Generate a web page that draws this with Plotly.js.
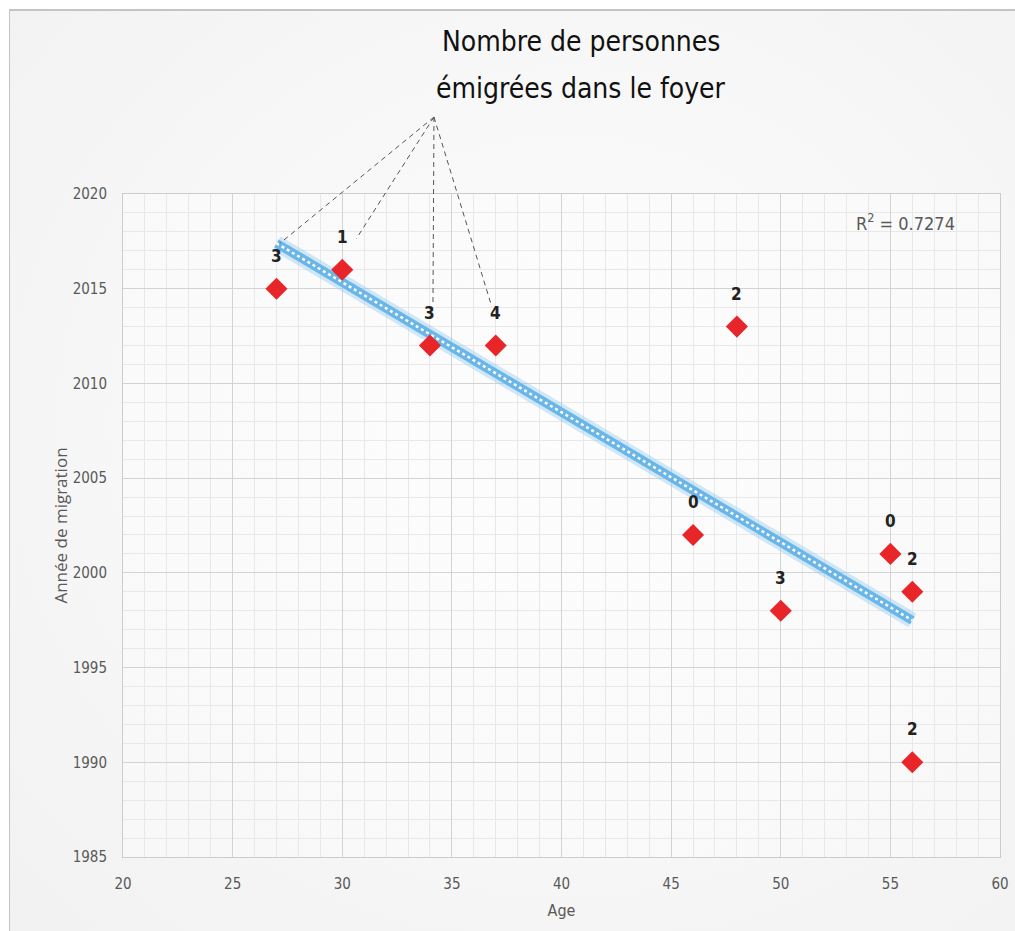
<!DOCTYPE html>
<html>
<head>
<meta charset="utf-8">
<script src="https://cdn.plot.ly/plotly-3.0.1.min.js"></script>
<style>
  html, body { margin: 0; padding: 0; background: #ffffff; }
  #frame {
    position: absolute; left: 9px; top: 9px; width: 1010px; height: 930px;
    border-left: 1px solid #c4c4c4; border-top: 2px solid #c4c4c4;
    background: radial-gradient(ellipse at 55% 45%, #fcfcfc 0%, #f7f7f7 55%, #f1f1f1 100%);
  }
  #chart { position: absolute; left: 0; top: 0; width: 1015px; height: 931px; }
</style>
</head>
<body>
<div id="frame"></div>
<div id="chart"></div>
<script>
// ---- data ----
const ages       = [27, 30, 34, 37, 48, 46, 50, 55, 56, 56];
const years      = [2015, 2016, 2012, 2012, 2013, 2002, 1998, 2001, 1999, 1990];
const emigrants  = [3, 1, 3, 4, 2, 0, 3, 0, 2, 2];
const xTickVals  = [20, 25, 30, 35, 40, 45, 50, 55, 60];
const yTickVals  = [1985, 1990, 1995, 2000, 2005, 2010, 2015, 2020];
const titleLines = ['Nombre de personnes', 'émigrées dans le foyer'];
const xTitle = 'Age';
const yTitle = 'Année de migration';

// ---- linear trend (least squares) ----
const n = ages.length;
const mx = ages.reduce((a, b) => a + b, 0) / n;
const my = years.reduce((a, b) => a + b, 0) / n;
let sxy = 0, sxx = 0, syy = 0;
for (let i = 0; i < n; i++) {
  sxy += (ages[i] - mx) * (years[i] - my);
  sxx += (ages[i] - mx) ** 2;
  syy += (years[i] - my) ** 2;
}
const slope = sxy / sxx;
const intercept = my - slope * mx;
const r2 = (sxy * sxy) / (sxx * syy);
const xMin = Math.min(...ages), xMax = Math.max(...ages);
const trendX = [xMin, xMax];
const trendY = trendX.map(x => intercept + slope * x);

const xRange = [20, 60], yRange = [1985, 2020];
const plotW = 877, plotH = 663;

const FONT = '"DejaVu Sans Condensed", Roboto, sans-serif';

const traces = [
  { x: trendX, y: trendY, mode: 'lines', hoverinfo: 'skip', showlegend: false,
    line: { color: 'rgba(140,200,240,0.40)', width: 16 } },
  { x: trendX, y: trendY, mode: 'lines', hoverinfo: 'skip', showlegend: false,
    line: { color: '#6ab6e8', width: 9 } },
  { x: trendX, y: trendY, mode: 'lines', hoverinfo: 'skip', showlegend: false,
    line: { color: '#ffffff', width: 2.5, dash: 'dot' } },
  { x: ages, y: years, mode: 'markers', showlegend: false,
    marker: { symbol: 'diamond', size: 17, color: '#e8262a' } }
];

const annotations = [];
for (let i = 0; i < n; i++) {
  annotations.push({
    x: ages[i], y: years[i], xref: 'x', yref: 'y', text: String(emigrants[i]),
    showarrow: false, yshift: 33, xanchor: 'center', yanchor: 'middle',
    font: { family: FONT, size: 17, color: '#222222', weight: 'bold' }
  });
}
// title (two lines)
const titleY = [1.2293, 1.1584];
titleLines.forEach((t, k) => {
  annotations.push({
    x: 0.5222, y: titleY[k], xref: 'paper', yref: 'paper', text: t, showarrow: false,
    xanchor: 'center', yanchor: 'middle',
    font: { family: FONT, size: 28, color: '#111111' }
  });
});
// R²
annotations.push({
  x: 0.951, y: 0.9578, xref: 'paper', yref: 'paper', showarrow: false,
  xanchor: 'right', yanchor: 'middle',
  text: 'R<sup>2</sup> = ' + r2.toFixed(4),
  font: { family: FONT, size: 18, color: '#595959' }
});

// leader lines from title to labels of the first four points
const apex = [0.3546, 1.1161];
const leaderIdx = [0, 1, 2, 3];
const leaderOff = [[3, 45], [14, 31], [3, 40], [-4, 39]];
const shapes = leaderIdx.map((idx, k) => ({
  type: 'line', xref: 'paper', yref: 'paper',
  x0: apex[0], y0: apex[1],
  x1: (ages[idx] - xRange[0]) / (xRange[1] - xRange[0]) + leaderOff[k][0] / plotW,
  y1: (years[idx] - yRange[0]) / (yRange[1] - yRange[0]) + leaderOff[k][1] / plotH,
  line: { color: '#555555', width: 1, dash: '5px,4px' }
}));

const tickFont = { family: FONT, size: 15, color: '#595959' };

const layout = {
  width: 1015, height: 931,
  margin: { l: 123, r: 15, t: 194, b: 74 },
  paper_bgcolor: 'rgba(0,0,0,0)',
  plot_bgcolor: 'rgba(255,255,255,0.35)',
  showlegend: false,
  xaxis: {
    range: xRange, tickvals: xTickVals, ticktext: xTickVals.map(String),
    showgrid: true, gridcolor: '#d3d3d3', gridwidth: 1,
    minor: { dtick: 1, showgrid: true, gridcolor: '#e8e8e8', gridwidth: 1 },
    showline: true, mirror: true, linecolor: '#cccccc', linewidth: 1,
    zeroline: false, ticks: '', tickfont: tickFont, ticklabelstandoff: 13,
    title: { text: xTitle, font: { family: FONT, size: 16, color: '#595959' }, standoff: 12 }
  },
  yaxis: {
    range: yRange, tickvals: yTickVals, ticktext: yTickVals.map(String),
    showgrid: true, gridcolor: '#d3d3d3', gridwidth: 1,
    minor: { dtick: 1, showgrid: true, gridcolor: '#e8e8e8', gridwidth: 1 },
    showline: true, mirror: true, linecolor: '#cccccc', linewidth: 1,
    zeroline: false, ticks: '', tickfont: tickFont, ticklabelstandoff: 12,
    title: { text: yTitle, font: { family: 'Open Sans', size: 17, color: '#595959' }, standoff: 0 }
  },
  annotations: annotations,
  shapes: shapes
};

Plotly.newPlot('chart', traces, layout, { displayModeBar: false, staticPlot: true });
</script>
</body>
</html>
